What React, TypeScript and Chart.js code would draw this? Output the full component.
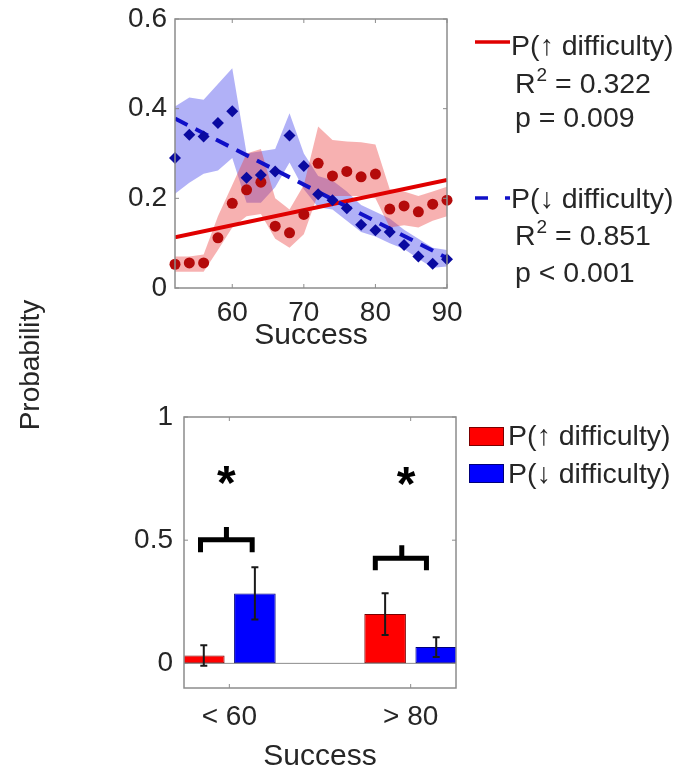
import React, { useEffect, useRef } from 'react';
import { Chart, registerables } from 'chart.js';

Chart.register(...registerables);

// ---------- top panel data ----------
const SUCCESS = [52, 54, 56, 58, 60, 62, 64, 66, 68, 70, 72, 74, 76, 78, 80, 82, 84, 86, 88, 90];
const UP_MEAN = [0.053, 0.056, 0.056, 0.112, 0.189, 0.219, 0.236, 0.138, 0.123, 0.164, 0.278, 0.25, 0.26, 0.248, 0.254, 0.176, 0.183, 0.17, 0.187, 0.196];
const UP_LOW = [0.036, 0.036, 0.036, 0.085, 0.135, 0.16, 0.165, 0.11, 0.09, 0.12, 0.21, 0.205, 0.205, 0.205, 0.2, 0.135, 0.14, 0.135, 0.15, 0.16];
const UP_HIGH = [0.07, 0.07, 0.075, 0.16, 0.23, 0.3, 0.31, 0.2, 0.175, 0.23, 0.36, 0.33, 0.327, 0.325, 0.32, 0.22, 0.215, 0.205, 0.215, 0.226];
const DOWN_MEAN = [0.29, 0.342, 0.338, 0.368, 0.394, 0.246, 0.252, 0.26, 0.34, 0.272, 0.209, 0.196, 0.178, 0.141, 0.129, 0.125, 0.096, 0.07, 0.054, 0.064];
const DOWN_LOW = [0.21, 0.235, 0.255, 0.262, 0.29, 0.19, 0.19, 0.225, 0.28, 0.22, 0.18, 0.175, 0.15, 0.125, 0.115, 0.1, 0.087, 0.065, 0.045, 0.048];
const DOWN_HIGH = [0.405, 0.425, 0.42, 0.455, 0.49, 0.3, 0.305, 0.31, 0.39, 0.3, 0.25, 0.24, 0.215, 0.185, 0.17, 0.155, 0.13, 0.11, 0.09, 0.085];
const FIT_X = [52, 90];
const UP_FIT = [0.113, 0.241];
const DOWN_FIT = [0.378, 0.067];
const TOP_X_TICKS = [60, 70, 80, 90];
const TOP_Y_TICKS = [0, 0.2, 0.4, 0.6];
const SERIES_LABELS = ['P(\u2191 difficulty)', 'P(\u2193 difficulty)'];
const R2_VALUES = ['0.322', '0.851'];
const P_TEXTS = ['p = 0.009', 'p < 0.001'];

// ---------- bottom panel data ----------
const GROUPS = ['< 60', '> 80'];
const GROUP_POS = [1, 2];
const BAR_UP = [0.032, 0.2];
const BAR_UP_ERR = [0.042, 0.085];
const BAR_DOWN = [0.284, 0.066];
const BAR_DOWN_ERR = [0.106, 0.04];
const BOT_Y_TICKS = [0, 0.5, 1];
const BRACKET_LEFT = [0.841, 1.805];
const BRACKET_RIGHT = [1.126, 2.087];
const BRACKET_MID = [0.984, 1.951];
const BRACKET_Y = [0.502, 0.4265];
const BRACKET_LEG = [0.451, 0.378];
const BRACKET_TOP = [0.553, 0.4795];
const STAR_X = [0.984, 1.975];
const STAR_Y = [0.765, 0.762];

const FONT = "'Liberation Sans', Arial, Helvetica, sans-serif";
const TXT = '#262626';
const AX = '#8c8c8c';
const TICK_SIZE = 28;
const TITLE_SIZE = 30;
const YTITLE_SIZE = 28;
const LEG_SIZE = 28.5;

const W = 687;
const H = 775;

function drawBox(chart: any) {
  const { ctx, chartArea: a, scales } = chart;
  const xs = scales.x;
  const ys = scales.y;
  ctx.save();
  ctx.strokeStyle = AX;
  ctx.lineWidth = 1.5;
  ctx.strokeRect(a.left, a.top, a.right - a.left, a.bottom - a.top);
  ctx.lineWidth = 1;
  const L = 4;
  ctx.beginPath();
  xs.ticks.forEach((t: any) => {
    const p = xs.getPixelForValue(t.value);
    ctx.moveTo(p, a.bottom);
    ctx.lineTo(p, a.bottom - L);
    ctx.moveTo(p, a.top);
    ctx.lineTo(p, a.top + L);
  });
  ys.ticks.forEach((t: any) => {
    const p = ys.getPixelForValue(t.value);
    ctx.moveTo(a.left, p);
    ctx.lineTo(a.left + L, p);
    ctx.moveTo(a.right, p);
    ctx.lineTo(a.right - L, p);
  });
  ctx.stroke();
  ctx.restore();
}

function zeroPad(s: any) {
  s.paddingLeft = 0;
  s.paddingRight = 0;
  s.paddingTop = 0;
  s.paddingBottom = 0;
}

function drawR2(ctx: any, x: number, baseline: number, value: string) {
  ctx.font = `${LEG_SIZE}px ${FONT}`;
  ctx.fillText('R', x, baseline);
  const w1 = ctx.measureText('R').width;
  ctx.font = `19px ${FONT}`;
  ctx.fillText('2', x + w1 + 1, baseline - 12);
  const w2 = ctx.measureText('2').width;
  ctx.font = `${LEG_SIZE}px ${FONT}`;
  ctx.fillText(' = ' + value, x + w1 + 1 + w2, baseline);
}

const topPlugin = {
  id: 'topDecor',
  afterDraw(chart: any) {
    drawBox(chart);
    const ctx = chart.ctx;
    ctx.save();
    ctx.fillStyle = TXT;
    ctx.textAlign = 'left';
    ctx.textBaseline = 'alphabetic';
    // red legend entry
    ctx.strokeStyle = '#e00000';
    ctx.lineWidth = 3.5;
    ctx.beginPath();
    ctx.moveTo(475, 42);
    ctx.lineTo(510, 42);
    ctx.stroke();
    ctx.font = `${LEG_SIZE}px ${FONT}`;
    ctx.fillText(SERIES_LABELS[0], 511, 55);
    drawR2(ctx, 515, 93, R2_VALUES[0]);
    ctx.font = `${LEG_SIZE}px ${FONT}`;
    ctx.fillText(P_TEXTS[0], 515, 127);
    // blue legend entry
    ctx.strokeStyle = '#1010c8';
    ctx.setLineDash([13, 17]);
    ctx.beginPath();
    ctx.moveTo(475, 198);
    ctx.lineTo(510, 198);
    ctx.stroke();
    ctx.setLineDash([]);
    ctx.font = `${LEG_SIZE}px ${FONT}`;
    ctx.fillText(SERIES_LABELS[1], 511, 208);
    drawR2(ctx, 515, 245, R2_VALUES[1]);
    ctx.font = `${LEG_SIZE}px ${FONT}`;
    ctx.fillText(P_TEXTS[1], 515, 282);
    ctx.restore();
  },
};

const botPlugin = {
  id: 'botDecor',
  beforeDatasetsDraw(chart: any) {
    const { ctx, chartArea: a, scales } = chart;
    const y0 = scales.y.getPixelForValue(0);
    ctx.save();
    ctx.strokeStyle = AX;
    ctx.lineWidth = 1;
    ctx.beginPath();
    ctx.moveTo(a.left, y0);
    ctx.lineTo(a.right, y0);
    ctx.stroke();
    ctx.restore();
  },
  afterDatasetsDraw(chart: any) {
    const { ctx, scales } = chart;
    const xs = scales.x;
    const ys = scales.y;
    ctx.save();
    // error bars
    const errs = [BAR_UP_ERR, BAR_DOWN_ERR];
    const vals = [BAR_UP, BAR_DOWN];
    ctx.strokeStyle = '#1a1a1a';
    ctx.lineWidth = 2;
    for (let d = 0; d < 2; d++) {
      const meta = chart.getDatasetMeta(d);
      meta.data.forEach((el: any, i: number) => {
        const x = el.x;
        const yt = ys.getPixelForValue(vals[d][i] + errs[d][i]);
        const yb = ys.getPixelForValue(vals[d][i] - errs[d][i]);
        ctx.beginPath();
        ctx.moveTo(x, yt);
        ctx.lineTo(x, yb);
        ctx.moveTo(x - 3.5, yt);
        ctx.lineTo(x + 3.5, yt);
        ctx.moveTo(x - 3.5, yb);
        ctx.lineTo(x + 3.5, yb);
        ctx.stroke();
      });
    }
    // significance brackets
    ctx.strokeStyle = '#000';
    ctx.lineWidth = 5;
    ctx.lineJoin = 'miter';
    for (let i = 0; i < BRACKET_Y.length; i++) {
      const xl = xs.getPixelForValue(BRACKET_LEFT[i]);
      const xr = xs.getPixelForValue(BRACKET_RIGHT[i]);
      const xm = xs.getPixelForValue(BRACKET_MID[i]);
      const yb = ys.getPixelForValue(BRACKET_Y[i]);
      const yl = ys.getPixelForValue(BRACKET_LEG[i]);
      const yt = ys.getPixelForValue(BRACKET_TOP[i]);
      ctx.beginPath();
      ctx.moveTo(xl, yl);
      ctx.lineTo(xl, yb);
      ctx.lineTo(xr, yb);
      ctx.lineTo(xr, yl);
      ctx.moveTo(xm, yb);
      ctx.lineTo(xm, yt);
      ctx.stroke();
    }
    // asterisks
    ctx.fillStyle = '#000';
    ctx.font = `bold 48px ${FONT}`;
    ctx.textAlign = 'left';
    ctx.textBaseline = 'alphabetic';
    const m = ctx.measureText('*');
    for (let i = 0; i < STAR_X.length; i++) {
      const cx = xs.getPixelForValue(STAR_X[i]);
      const cy = ys.getPixelForValue(STAR_Y[i]);
      const x = cx - (m.actualBoundingBoxRight - m.actualBoundingBoxLeft) / 2;
      const y = cy + (m.actualBoundingBoxAscent - m.actualBoundingBoxDescent) / 2;
      ctx.fillText('*', x, y);
    }
    ctx.restore();
  },
  afterDraw(chart: any) {
    drawBox(chart);
    const ctx = chart.ctx;
    ctx.save();
    // legend
    const colors = ['#ff0000', '#0000ff'];
    const edges = ['#7a0000', '#00007a'];
    const boxTops = [427, 464];
    const baselines = [445, 483];
    ctx.font = `${LEG_SIZE}px ${FONT}`;
    ctx.textAlign = 'left';
    ctx.textBaseline = 'alphabetic';
    for (let i = 0; i < 2; i++) {
      ctx.fillStyle = colors[i];
      ctx.fillRect(469, boxTops[i], 35, 19);
      ctx.strokeStyle = edges[i];
      ctx.lineWidth = 1;
      ctx.strokeRect(469.5, boxTops[i] + 0.5, 34, 18);
      ctx.fillStyle = TXT;
      ctx.fillText(SERIES_LABELS[i], 508, baselines[i]);
    }
    // shared y-axis title
    ctx.translate(31, 365);
    ctx.rotate(-Math.PI / 2);
    ctx.textAlign = 'center';
    ctx.textBaseline = 'middle';
    ctx.font = `${YTITLE_SIZE}px ${FONT}`;
    ctx.fillText('Probability', 0, 0);
    ctx.restore();
  },
};

function topConfig(): any {
  const pts = (ys: number[]) => SUCCESS.map((x, i) => ({ x, y: ys[i] }));
  const band = { borderWidth: 0, pointRadius: 0, tension: 0 };
  return {
    type: 'line',
    data: {
      datasets: [
        { ...band, label: 'down high', data: pts(DOWN_HIGH), fill: 1, backgroundColor: 'rgba(60,60,235,0.4)', order: 10 },
        { ...band, label: 'down low', data: pts(DOWN_LOW), fill: false, order: 10 },
        { ...band, label: 'up high', data: pts(UP_HIGH), fill: 3, backgroundColor: 'rgba(235,60,60,0.4)', order: 9 },
        { ...band, label: 'up low', data: pts(UP_LOW), fill: false, order: 9 },
        { label: 'up fit', data: FIT_X.map((x, i) => ({ x, y: UP_FIT[i] })), borderColor: '#e00000', borderWidth: 4, pointRadius: 0, fill: false, order: 5 },
        { label: 'down fit', data: FIT_X.map((x, i) => ({ x, y: DOWN_FIT[i] })), borderColor: '#1010c8', borderWidth: 4, borderDash: [14, 9], pointRadius: 0, fill: false, order: 3 },
        { label: SERIES_LABELS[0], data: pts(UP_MEAN), showLine: false, pointRadius: 5.5, pointBackgroundColor: '#b40a0a', pointBorderColor: '#b40a0a', pointBorderWidth: 0, clip: false, order: 4 },
        { label: SERIES_LABELS[1], data: pts(DOWN_MEAN), showLine: false, pointStyle: 'rectRot', pointRadius: 6, pointBackgroundColor: '#0a0aa0', pointBorderColor: '#0a0aa0', pointBorderWidth: 0, clip: false, order: 2 },
      ],
    },
    options: {
      animation: false,
      responsive: false,
      maintainAspectRatio: false,
      devicePixelRatio: 1,
      layout: { padding: { left: 0, top: 19, right: W - 447, bottom: H - 288 - 70 } },
      plugins: { legend: { display: false }, tooltip: { enabled: false } },
      scales: {
        x: {
          type: 'linear',
          min: 52,
          max: 90,
          afterBuildTicks: (s: any) => { s.ticks = TOP_X_TICKS.map((v) => ({ value: v })); },
          afterFit: (s: any) => { s.height = 70; zeroPad(s); },
          grid: { display: false, drawTicks: false },
          border: { display: false },
          ticks: { font: { family: FONT, size: TICK_SIZE }, color: TXT, padding: 8, maxRotation: 0, autoSkip: false, callback: (v: any) => String(v) },
          title: { display: true, text: 'Success', font: { family: FONT, size: TITLE_SIZE }, color: TXT, padding: { top: 0, bottom: 4 } },
        },
        y: {
          type: 'linear',
          min: 0,
          max: 0.6,
          afterBuildTicks: (s: any) => { s.ticks = TOP_Y_TICKS.map((v) => ({ value: v })); },
          afterFit: (s: any) => { s.width = 175; zeroPad(s); },
          grid: { display: false, drawTicks: false },
          border: { display: false },
          ticks: { font: { family: FONT, size: TICK_SIZE }, color: TXT, padding: 8, callback: (v: any) => String(v) },
        },
      },
    },
    plugins: [topPlugin],
  };
}

function botConfig(): any {
  return {
    type: 'bar',
    data: {
      datasets: [
        {
          label: SERIES_LABELS[0],
          data: GROUP_POS.map((x, i) => ({ x, y: BAR_UP[i] })),
          backgroundColor: '#ff0000',
          borderColor: '#7a0000',
          borderWidth: 1,
          borderSkipped: false,
          categoryPercentage: 0.5635,
          barPercentage: 0.814,
        },
        {
          label: SERIES_LABELS[1],
          data: GROUP_POS.map((x, i) => ({ x, y: BAR_DOWN[i] })),
          backgroundColor: '#0000ff',
          borderColor: '#00007a',
          borderWidth: 1,
          borderSkipped: false,
          categoryPercentage: 0.5635,
          barPercentage: 0.814,
        },
      ],
    },
    options: {
      animation: false,
      responsive: false,
      maintainAspectRatio: false,
      devicePixelRatio: 1,
      layout: { padding: { left: 0, top: 417, right: W - 456, bottom: 0 } },
      plugins: { legend: { display: false }, tooltip: { enabled: false } },
      scales: {
        x: {
          type: 'linear',
          min: 0.75,
          max: 2.25,
          offset: false,
          afterBuildTicks: (s: any) => { s.ticks = GROUP_POS.map((v) => ({ value: v })); },
          afterFit: (s: any) => { s.height = 87; zeroPad(s); },
          grid: { display: false, drawTicks: false, offset: false },
          border: { display: false },
          ticks: {
            font: { family: FONT, size: TICK_SIZE },
            color: TXT,
            padding: 12,
            maxRotation: 0,
            autoSkip: false,
            callback: (v: any) => { const k = GROUP_POS.indexOf(v); return k >= 0 ? GROUPS[k] : ''; },
          },
          title: { display: true, text: 'Success', font: { family: FONT, size: TITLE_SIZE }, color: TXT, padding: { top: 0, bottom: 0 } },
        },
        y: {
          type: 'linear',
          min: -0.1,
          max: 1,
          afterBuildTicks: (s: any) => { s.ticks = BOT_Y_TICKS.map((v) => ({ value: v })); },
          afterFit: (s: any) => { s.width = 184; zeroPad(s); },
          grid: { display: false, drawTicks: false },
          border: { display: false },
          ticks: { font: { family: FONT, size: TICK_SIZE }, color: TXT, padding: 11, callback: (v: any) => String(v) },
        },
      },
    },
    plugins: [botPlugin],
  };
}

export default function App() {
  const topRef = useRef<HTMLCanvasElement>(null);
  const botRef = useRef<HTMLCanvasElement>(null);
  useEffect(() => {
    const bot = new Chart(botRef.current as HTMLCanvasElement, botConfig());
    const top = new Chart(topRef.current as HTMLCanvasElement, topConfig());
    return () => {
      top.destroy();
      bot.destroy();
    };
  }, []);
  return (
    <div style={{ position: 'absolute', left: 0, top: 0, width: W, height: H, background: '#fff', overflow: 'hidden' }}>
      <canvas ref={botRef} width={W} height={H} style={{ position: 'absolute', left: 0, top: 0 }} />
      <canvas ref={topRef} width={W} height={H} style={{ position: 'absolute', left: 0, top: 0 }} />
    </div>
  );
}
